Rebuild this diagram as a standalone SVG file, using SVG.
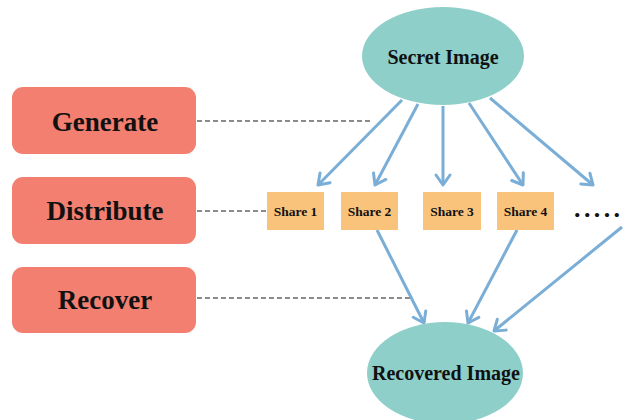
<svg xmlns="http://www.w3.org/2000/svg" width="628" height="420" viewBox="0 0 628 420">
<style>
.step{fill:#f27f6f}
.steptxt{font-family:"Liberation Serif","Times New Roman",serif;font-weight:bold;font-size:27px;fill:#111;text-anchor:middle;dominant-baseline:central}
.ell{fill:#8ecfc9}
.elltxt{font-family:"Liberation Serif","Times New Roman",serif;font-weight:bold;font-size:20px;fill:#111;text-anchor:middle;dominant-baseline:central}
.share{fill:#f9c37c}
.sharetxt{font-family:"Liberation Serif","Times New Roman",serif;font-weight:bold;font-size:13.5px;fill:#111;text-anchor:middle;dominant-baseline:central}
.dash{stroke:#666;stroke-width:1.3;stroke-dasharray:5,3;fill:none}
.arr{stroke:#7aaed6;stroke-width:3;fill:none;marker-end:url(#ah)}
</style>
<defs>
<marker id="ah" markerUnits="userSpaceOnUse" markerWidth="20" markerHeight="20" viewBox="0 0 20 20" refX="16" refY="10" orient="auto">
<path d="M6,3 L16,10 L6,17" fill="none" stroke="#7aaed6" stroke-width="3" stroke-linecap="round" stroke-linejoin="round"/>
</marker>
</defs>
<g id="connectors">
<line class="dash" x1="197" y1="121" x2="370" y2="121"/>
<line class="dash" x1="197" y1="211" x2="266" y2="211"/>
<line class="dash" x1="197" y1="298" x2="412" y2="298"/>
<line class="arr" x1="402" y1="100" x2="318" y2="185"/>
<line class="arr" x1="418" y1="104" x2="375" y2="185"/>
<line class="arr" x1="443" y1="106" x2="443" y2="185"/>
<line class="arr" x1="469" y1="103" x2="523" y2="185"/>
<line class="arr" x1="490" y1="98" x2="593" y2="185"/>
<line class="arr" x1="377" y1="230" x2="424" y2="323"/>
<line class="arr" x1="517" y1="230" x2="468" y2="323"/>
<line class="arr" x1="622" y1="227" x2="494" y2="331"/>
</g>
<g id="generate"><rect class="step" x="12" y="87" width="184" height="67" rx="11"/><text class="steptxt" x="105" y="122">Generate</text></g>
<g id="distribute"><rect class="step" x="12" y="177" width="184" height="67" rx="11"/><text class="steptxt" x="105" y="211">Distribute</text></g>
<g id="recover"><rect class="step" x="12" y="267" width="184" height="66" rx="11"/><text class="steptxt" x="105" y="300">Recover</text></g>
<g id="secret"><ellipse class="ell" cx="443" cy="56" rx="81" ry="49"/><text class="elltxt" x="443" y="57">Secret Image</text></g>
<g id="share1"><rect class="share" x="267" y="192" width="57" height="38"/><text class="sharetxt" x="295.5" y="211">Share 1</text></g>
<g id="share2"><rect class="share" x="341" y="192" width="57" height="38"/><text class="sharetxt" x="369.5" y="211">Share 2</text></g>
<g id="share3"><rect class="share" x="423" y="192" width="58" height="38"/><text class="sharetxt" x="452" y="211">Share 3</text></g>
<g id="share4"><rect class="share" x="497" y="192" width="57" height="38"/><text class="sharetxt" x="525.5" y="211">Share 4</text></g>
<g id="more"><text x="574" y="217" style="font-family:'Liberation Serif',serif;font-weight:bold;font-size:26px;letter-spacing:3.4px;fill:#111">.....</text></g>
<g id="recovered"><ellipse class="ell" cx="445" cy="373" rx="78" ry="51"/><text class="elltxt" x="446" y="373">Recovered Image</text></g>
</svg>
